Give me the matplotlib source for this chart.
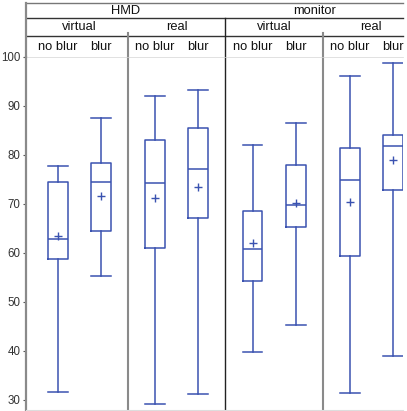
import matplotlib
matplotlib.use("Agg")
import matplotlib.pyplot as plt
import numpy as np

plt.rcParams['font.family'] = ['Liberation Sans', 'DejaVu Sans']

# ── data ────────────────────────────────────────────────────────────────
displays = ["HMD", "monitor"]
scenes = ["virtual", "real", "virtual", "real"]
conditions = ["no blur", "blur"] * 4

whis_lo = [31.6, 55.2, 29.1, 31.3, 39.7, 45.2, 31.4, 39.0]
q1      = [58.7, 64.5, 61.0, 67.1, 54.2, 65.2, 59.3, 72.8]
medians = [62.8, 74.5, 74.3, 77.1, 60.8, 69.8, 74.9, 81.8]
q3      = [74.5, 78.4, 83.1, 85.4, 68.6, 78.0, 81.4, 84.0]
whis_hi = [77.8, 87.6, 92.0, 93.2, 82.0, 86.4, 96.1, 98.7]
means   = [63.5, 71.5, 71.1, 73.5, 62.0, 70.2, 70.4, 79.0]

yticks = [30, 40, 50, 60, 70, 80, 90, 100]

# ── layout ──────────────────────────────────────────────────────────────
W, H = 407, 411
BLUE = '#3a52b0'
OFF = 0.221
BOX_W = 0.205
XLIM = (-0.548, 3.325)

positions = []
for k in range(len(scenes)):
    positions += [k - OFF, k + OFF]

fig = plt.figure(figsize=(W / 100, H / 100), dpi=100)
ax_left, ax_right = 26 / W, 403 / W
ax_top_px, ax_bot_px = 56.7, 410
ax = fig.add_axes([ax_left, 1 - ax_bot_px / H, ax_right - ax_left,
                   (ax_bot_px - ax_top_px) / H])

stats = []
for i in range(len(medians)):
    stats.append(dict(med=medians[i], q1=q1[i], q3=q3[i],
                      whislo=whis_lo[i], whishi=whis_hi[i], mean=means[i],
                      fliers=[]))

lp = dict(color=BLUE, linewidth=1.1)
ax.bxp(stats, positions=positions, widths=BOX_W, capwidths=BOX_W,
       showmeans=True, showfliers=False,
       boxprops=lp, whiskerprops=lp, capprops=lp, medianprops=lp,
       meanprops=dict(marker='+', markeredgecolor=BLUE, markersize=5.5,
                      markeredgewidth=1.0))

ax.set_xlim(*XLIM)
ax.set_ylim(27.96, 100)
ax.set_xticks([])
ax.set_yticks(yticks)
ax.tick_params(axis='y', length=2.5, width=0.8, color='#555', pad=1.5,
               labelsize=8.3, labelcolor='#333')

ax.spines['right'].set_visible(False)
ax.spines['left'].set_color('#8a8a8a')
ax.spines['left'].set_linewidth(1.6)
ax.spines['top'].set_color('#d4d4d4')
ax.spines['top'].set_linewidth(0.5)
ax.spines['bottom'].set_color('#dddddd')
ax.spines['bottom'].set_linewidth(0.8)

# group dividers
for xd, c, lw in [(0.5, '#8a8a8a', 1.5), (1.5, '#222222', 1.0), (2.5, '#8a8a8a', 1.5)]:
    ax.axvline(xd, color=c, linewidth=lw, zorder=1)

# ── header ──────────────────────────────────────────────────────────────
hdr_top, hdr_bot = 3, ax_top_px
hx = fig.add_axes([ax_left, 1 - hdr_bot / H, ax_right - ax_left,
                   (hdr_bot - hdr_top) / H])
hx.set_xlim(*XLIM)
hx.set_ylim(hdr_bot, hdr_top)
hx.axis('off')

r1, r2 = 18.3, 36.0
hx.plot(XLIM, [hdr_top + 0.3] * 2, color='#777', lw=1.0, clip_on=False)
hx.plot(XLIM, [r1, r1], color='#333', lw=1.0, clip_on=False)
hx.plot(XLIM, [r2, r2], color='#333', lw=1.0, clip_on=False)
hx.plot([XLIM[0]] * 2, [hdr_top, hdr_bot], color='#8a8a8a', lw=1.6, clip_on=False)
hx.plot([1.5, 1.5], [r1, hdr_bot], color='#222', lw=1.0)
hx.plot([0.5, 0.5], [r2 - 2.5, hdr_bot], color='#8a8a8a', lw=1.5)
hx.plot([2.5, 2.5], [r2 - 2.5, hdr_bot], color='#8a8a8a', lw=1.5)

FS = 9.3
for j, name in enumerate(displays):
    xc = (XLIM[0] + 1.5) / 2 if j == 0 else (1.5 + XLIM[1]) / 2
    hx.text(xc, (hdr_top + r1) / 2 + 0.6, name, ha='center', va='center',
            fontsize=FS, color='#111')
for k, name in enumerate(scenes):
    hx.text(k, (r1 + r2) / 2 + 0.3, name, ha='center', va='center',
            fontsize=FS, color='#111')
for p, name in zip(positions, conditions):
    hx.text(p, 47.2, name, ha='center', va='center', fontsize=FS, color='#111')

fig.savefig("out.png", dpi=100)
